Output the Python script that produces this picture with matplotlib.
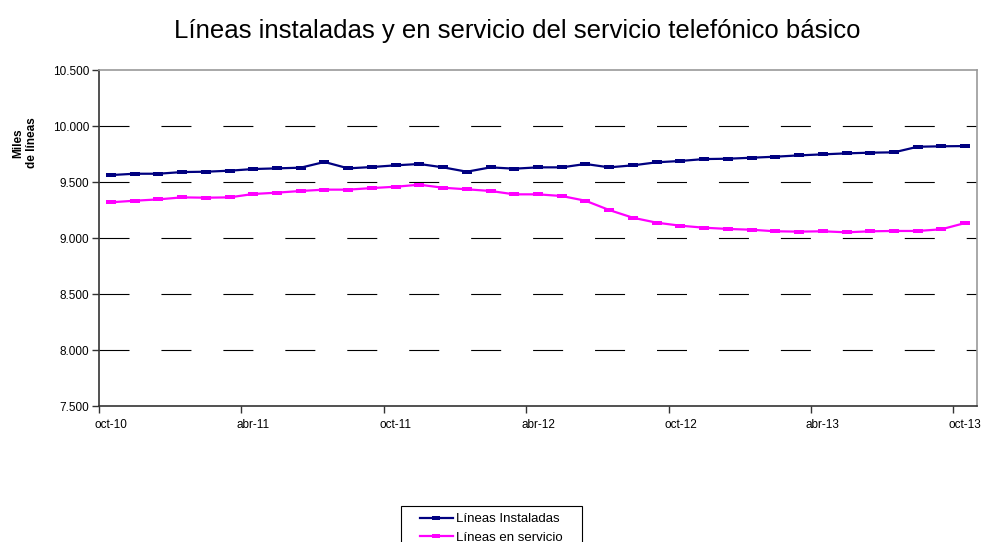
import matplotlib
matplotlib.use("Agg")
import matplotlib.pyplot as plt
from matplotlib.path import Path
from matplotlib.patches import Rectangle

plt.rcParams['font.family'] = ['Liberation Sans', 'DejaVu Sans']
plt.rcParams['lines.scale_dashes'] = False

tick_labels = ["oct-10", "abr-11", "oct-11", "abr-12", "oct-12", "abr-13", "oct-13"]

instaladas = [9562, 9574, 9574, 9589, 9592, 9601, 9616, 9622, 9628, 9679,
              9622, 9634, 9649, 9661, 9631, 9592, 9631, 9619, 9631, 9631,
              9661, 9631, 9649, 9676, 9688, 9705, 9708, 9717, 9726, 9738,
              9747, 9756, 9762, 9765, 9815, 9819, 9821]

en_servicio = [9319, 9333, 9345, 9363, 9360, 9363, 9393, 9405, 9420, 9432,
               9432, 9446, 9458, 9476, 9449, 9435, 9420, 9390, 9390, 9375,
               9333, 9250, 9181, 9137, 9110, 9092, 9081, 9074, 9060, 9057,
               9060, 9051, 9060, 9063, 9063, 9078, 9134]

x = list(range(len(instaladas)))

rect = Path([(-1, -0.45), (1, -0.45), (1, 0.45), (-1, 0.45), (-1, -0.45)],
            [Path.MOVETO, Path.LINETO, Path.LINETO, Path.LINETO, Path.CLOSEPOLY])

W, H = 986, 542
fig = plt.figure(figsize=(9.86, 5.42), dpi=100)
ax = fig.add_axes([0.1004, 0.2509, 0.8905, 0.6199])

ax.plot(x, instaladas, color="#000080", lw=1.6, marker=rect, markersize=7.5,
        markeredgewidth=0, label="Líneas Instaladas", zorder=3)
ax.plot(x, en_servicio, color="#FF00FF", lw=1.6, marker=rect, markersize=7.5,
        markeredgewidth=0, label="Líneas en servicio", zorder=3)

ax.set_xlim(-0.5, len(x) - 0.5)
ax.set_ylim(7500, 10500)
yt = [7500, 8000, 8500, 9000, 9500, 10000, 10500]
ax.set_yticks(yt)
ax.set_yticklabels([f"{v:,}".replace(",", ".") for v in yt], fontsize=8.5)
for v in [8000, 8500, 9000, 9500, 10000]:
    ax.axhline(v, color="black", lw=0.8, dashes=(21.6, 23.0), zorder=1)

ax.set_xticks([i - 0.5 for i in range(0, len(x), 6)])
ax.set_xticklabels([])
ax.set_xticks(list(range(0, len(x), 6)), minor=True)
ax.set_xticklabels(tick_labels, minor=True, fontsize=8.5)
ax.tick_params(axis='x', which='minor', length=0, pad=9.5)
ax.tick_params(axis='x', which='major', length=5, direction='out', width=1, color="#333333")
ax.tick_params(axis='y', length=5, direction='out', width=1, color="#333333", pad=2)

for s in ['left', 'bottom']:
    ax.spines[s].set_color("#333333")
    ax.spines[s].set_linewidth(1.2)
for s in ['top', 'right']:
    ax.spines[s].set_color("#999999")
    ax.spines[s].set_linewidth(1.2)

fig.text(0.025, 0.736, "Miles\nde líneas", rotation=90, fontsize=8.5,
         fontweight='bold', ha='center', va='center', multialignment='center')

fig.text(0.525, 0.942, "Líneas instaladas y en servicio del servicio telefónico básico",
         fontsize=18.5, ha='center', va='center')

# legend frame (Excel style, wide padding)
fig.patches.append(Rectangle((401 / W, -0.05), (582 - 401) / W, (1 - 506 / H) + 0.05,
                             transform=fig.transFigure, fill=False, edgecolor="black",
                             linewidth=0.8))
leg = fig.legend(loc='upper left', bbox_to_anchor=(420 / W, 1 - 513 / H), fontsize=9.5,
                 frameon=False, handlelength=2.5, borderpad=0, borderaxespad=0,
                 labelspacing=0.5, handletextpad=0.2, markerscale=0.7)

fig.savefig("out.png", dpi=100)
